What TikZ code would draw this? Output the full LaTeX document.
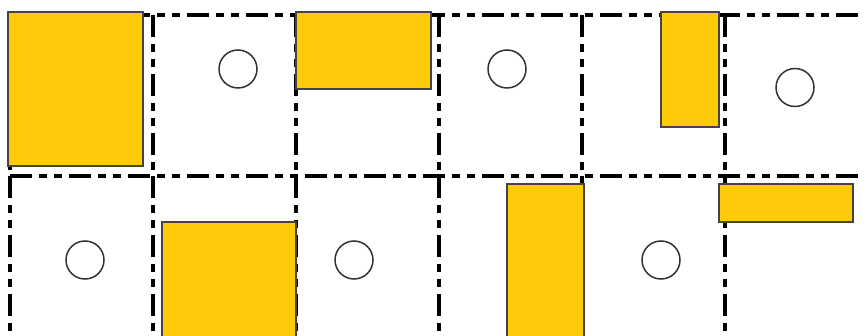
\documentclass[tikz,border=0pt]{standalone}
\usetikzlibrary{positioning}
\definecolor{boxyellow}{HTML}{FFCA0A}
\definecolor{boxedge}{HTML}{444444}
\definecolor{ringedge}{HTML}{333333}
\tikzset{
  cellframe/.style={draw=black, line width=4pt,
    dash pattern=on 22pt off 7pt on 8pt off 7pt on 8pt off 7pt},
  yblock/.style={draw=boxedge, fill=boxyellow, line width=1.5pt, inner sep=0pt, outer sep=0pt},
  ring/.style={circle, draw=ringedge, fill=white, line width=1.5pt, minimum size=38pt, inner sep=0pt}
}
\begin{document}
\begin{tikzpicture}[x=1pt,y=-1pt]
\useasboundingbox (0,0) rectangle (866,336);
\clip (0,0) rectangle (866,336);
% grid lines
\coordinate (h1a) at (10,15);  \coordinate (h1b) at (859,15);
\coordinate (h2a) at (10,176); \coordinate (h2b) at (859,176);
\draw[cellframe] (h1a) -- (h1b);
\draw[cellframe] (h2a) -- (h2b);
\foreach \i in {0,...,5} {
  \draw[cellframe] ({10+143*\i},15) -- ({10+143*\i},176);
  \draw[cellframe] ({10+143*\i},176) -- ({10+143*\i},345);
}
% yellow blocks
\node[yblock, minimum width=135pt, minimum height=154pt] (b1) at (75.5,89) {};
\node[yblock, minimum width=135pt, minimum height=77pt] (b2) at (363.5,50.5) {};
\node[yblock, minimum width=58pt, minimum height=115pt] (b3) at (690,69.5) {};
\node[yblock, minimum width=134pt, minimum height=120pt] (b4) at (229,282) {};
\node[yblock, minimum width=77pt, minimum height=160pt] (b5) at (545.5,264) {};
\node[yblock, minimum width=134pt, minimum height=38pt] (b6) at (786,203) {};
% circles
\node[ring] (c1) at (238,69) {};
\node[ring] (c2) at (507,69) {};
\node[ring] (c3) at (795,87.5) {};
\node[ring] (c4) at (85,260) {};
\node[ring] (c5) at (354,260) {};
\node[ring] (c6) at (661,260) {};
\end{tikzpicture}
\end{document}
